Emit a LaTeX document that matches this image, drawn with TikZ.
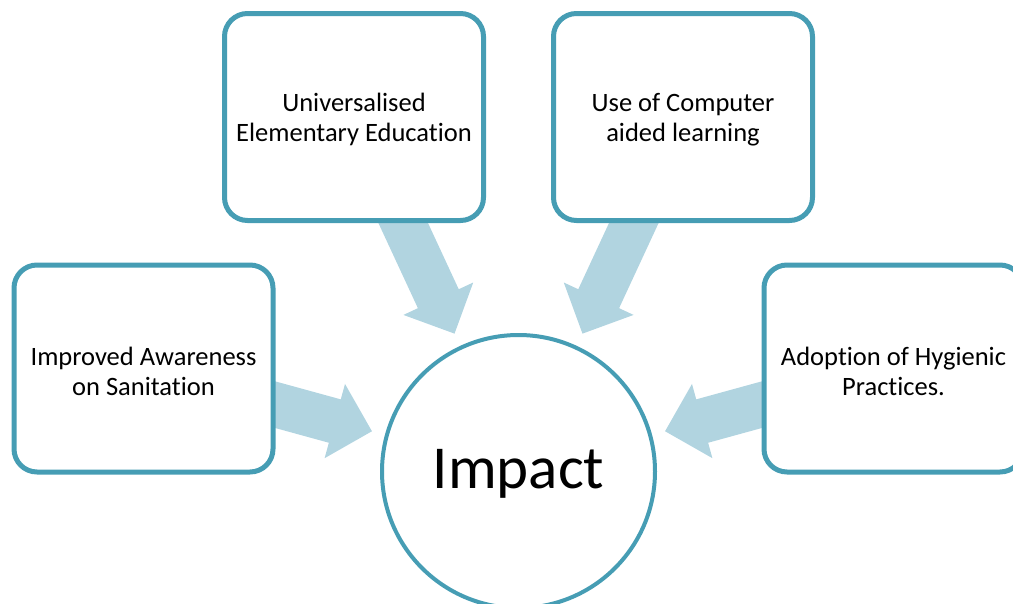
\documentclass[tikz,border=0pt]{standalone}
\usepackage{fontspec}
\setmainfont[RawFeature={-liga}]{Carlito}
\usetikzlibrary{calc}
\definecolor{boxline}{RGB}{70,157,180}
\definecolor{arrowfill}{RGB}{177,212,224}
\pgfdeclarelayer{bg}
\pgfsetlayers{bg,main}
\newcommand\radarrow[2]{%
  \coordinate (T) at ($(#2.center)!152pt!(#1.center)$);
  \coordinate (H) at ($(T)!38.5pt!(#1.center)$);
  \fill[blockarrow] ($(#1.center)!22.5pt!90:(T)$) -- ($(H)!22.5pt!90:(T)$) -- ($(H)!38.5pt!90:(T)$) -- (T)
    -- ($(H)!38.5pt!-90:(T)$) -- ($(H)!22.5pt!-90:(T)$) -- ($(#1.center)!22.5pt!-90:(T)$) -- cycle;}
\begin{document}
\begin{tikzpicture}[x=1pt,y=-1pt,
  box/.style={draw=boxline,line width=5pt,fill=white,rounded corners=23pt,minimum width=259pt,minimum height=207pt,inner sep=0pt,
    label={[align=center,font=\fontsize{26.5}{30}\selectfont,yshift=-2.5pt]center:#1}},
  hub/.style={circle,draw=boxline,line width=4pt,fill=white,minimum size=273pt,inner sep=0pt},
  blockarrow/.style={fill=arrowfill}]
\useasboundingbox (0,0) rectangle (1013,603);
\clip (0,0) rectangle (1013,603);
\node[hub] (hub) at (518.5,471.5) {};
\node at (518.5,471.5) [font=\fontsize{61}{70}\selectfont,yshift=-2pt] (hubtext) {Impact};
\node[box={Improved Awareness\\on Sanitation}] (left) at (143.5,368.5) {};
\node[box={Universalised\\Elementary Education}] (tl) at (354,117) {};
\node[box={Use of Computer\\aided learning}] (tr) at (683,117) {};
\node[box={Adoption of Hygienic\\Practices.}] (right) at (893.5,368.5) {};
\begin{pgfonlayer}{bg}
\radarrow{left}{hub}
\radarrow{tl}{hub}
\radarrow{tr}{hub}
\radarrow{right}{hub}
\end{pgfonlayer}
\end{tikzpicture}
\end{document}
